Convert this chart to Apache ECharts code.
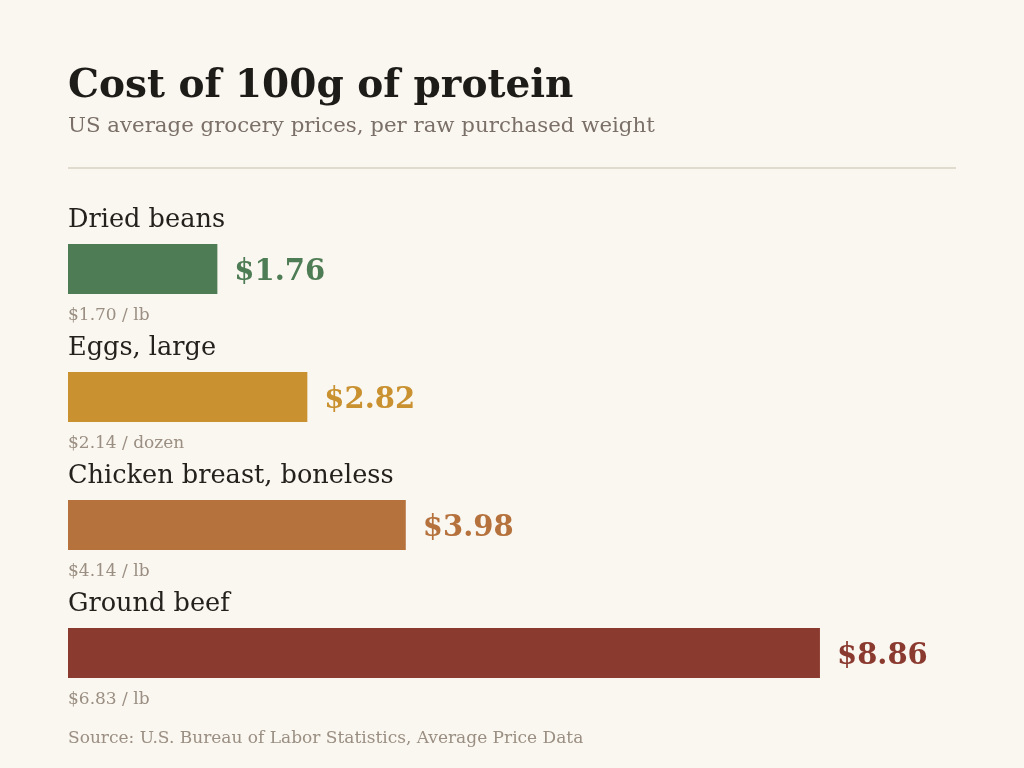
<!DOCTYPE html>
<html>
<head>
    <meta charset="utf-8">
    <title>Cost of 100g of protein</title>
    <script src="https://cdn.jsdelivr.net/npm/echarts@6/dist/echarts.min.js"></script>
    <style>
        html, body { margin: 0; padding: 0; background: #faf6f0; }
        #chart { width: 1024px; height: 768px; }
    </style>
</head>
<body>
    <div id="chart"></div>
    <script type="text/javascript">
        var foods = ['Dried beans', 'Eggs, large', 'Chicken breast, boneless', 'Ground beef'];
        var costPer100g = [1.76, 2.82, 3.98, 8.86];
        var retailPrice = ['$1.70 / lb', '$2.14 / dozen', '$4.14 / lb', '$6.83 / lb'];
        var barColors = ['#4e7c54', '#c9912f', '#b5723d', '#8b3a2f'];

        var serif = '"DejaVu Serif", serif';
        var myChart = echarts.init(document.getElementById('chart'));

        var option = {
            backgroundColor: '#faf6f0',
            animation: false,
            title: [{
                left: 68,
                top: 67,
                padding: 0,
                text: 'Cost of 100g of protein',
                textStyle: { fontFamily: serif, fontSize: 39, fontWeight: 'bold', color: '#1e1c18' },
                subtext: 'US average grocery prices, per raw purchased weight',
                subtextStyle: { fontFamily: serif, fontSize: 21.3, color: '#7a7068' },
                itemGap: 10
            }, {
                left: 68,
                top: 730,
                padding: 0,
                text: 'Source: U.S. Bureau of Labor Statistics, Average Price Data',
                textStyle: { fontFamily: serif, fontSize: 17, fontWeight: 'normal', color: '#9a8f82' }
            }],
            graphic: [{
                type: 'line',
                shape: { x1: 68, y1: 168, x2: 956, y2: 168 },
                style: { stroke: '#d9d0c3', lineWidth: 1.5 }
            }],
            grid: { left: 68, top: 205, width: 848.7, height: 512 },
            xAxis: {
                type: 'value', min: 0, max: 10,
                show: false
            },
            yAxis: {
                type: 'category',
                data: foods,
                inverse: true,
                axisLine: { show: false },
                axisTick: { show: false },
                splitLine: { show: false },
                axisLabel: {
                    inside: true,
                    margin: 0,
                    align: 'left',
                    verticalAlign: 'middle',
                    formatter: function (val, idx) {
                        return '{name|' + val + '}\n{gap|}\n{unit|' + retailPrice[idx] + '}';
                    },
                    rich: {
                        name: { fontFamily: serif, fontSize: 25.6, color: '#24211d', lineHeight: 30 },
                        gap: { fontSize: 10, lineHeight: 64 },
                        unit: { fontFamily: serif, fontSize: 17, color: '#9a8f82', lineHeight: 34 }
                    }
                }
            },
            series: [{
                type: 'bar',
                barWidth: 50,
                data: costPer100g.map(function (v, i) {
                    return {
                        value: v,
                        itemStyle: { color: barColors[i] },
                        label: { color: barColors[i] }
                    };
                }),
                label: {
                    show: true,
                    position: 'right',
                    distance: 17,
                    offset: [0, 3],
                    fontFamily: serif,
                    fontSize: 29,
                    fontWeight: 'bold',
                    formatter: function (p) { return '$' + p.value.toFixed(2); }
                }
            }]
        };

        myChart.setOption(option);
    </script>
</body>
</html>
